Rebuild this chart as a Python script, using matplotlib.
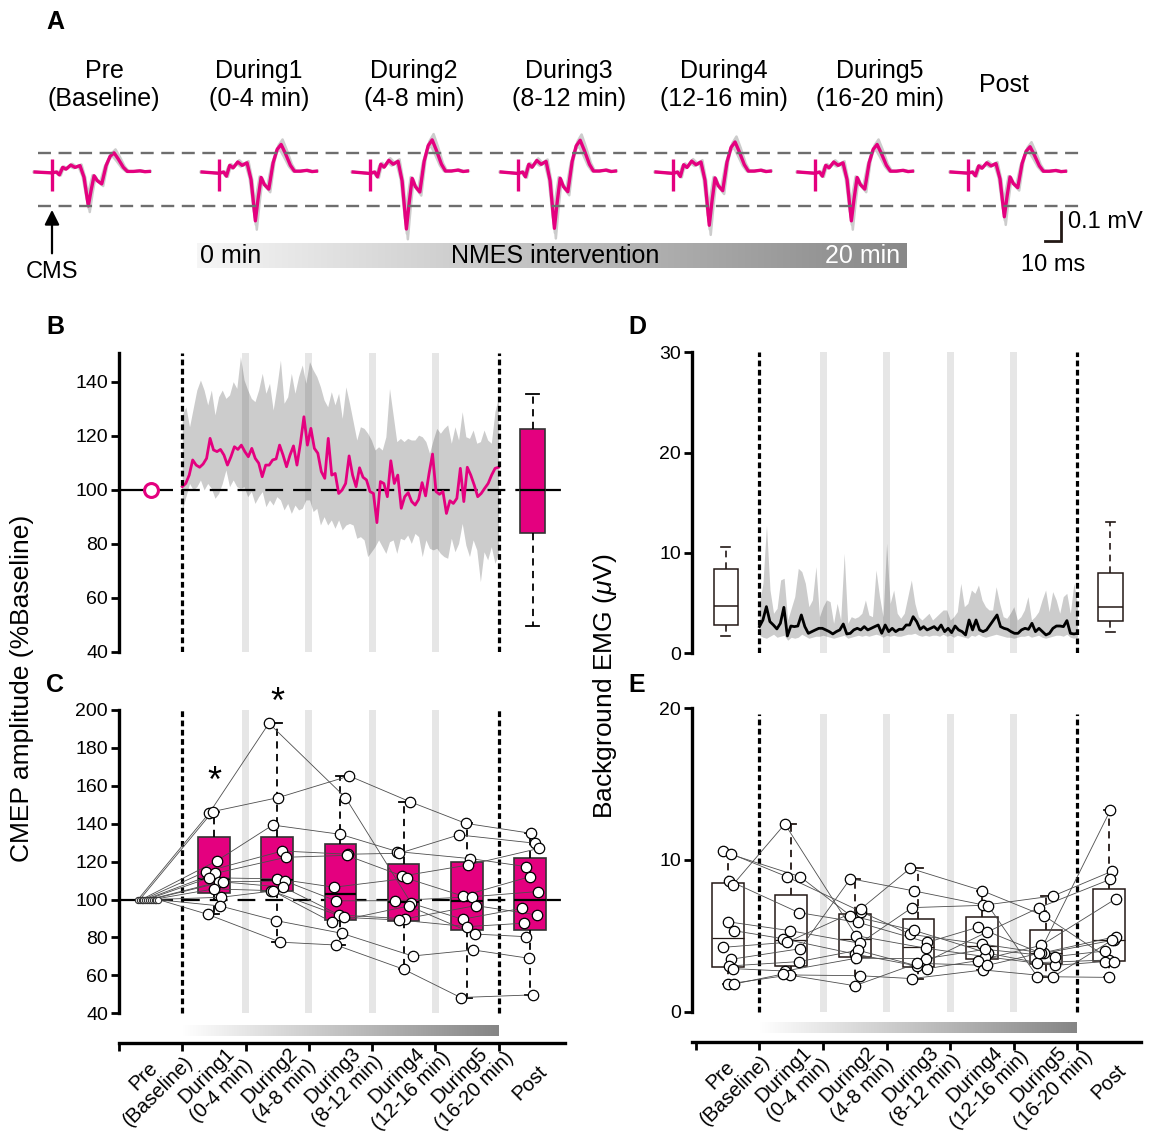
import numpy as np
import matplotlib
matplotlib.use("Agg")
import matplotlib.pyplot as plt
from matplotlib import transforms
from matplotlib.colors import LinearSegmentedColormap

plt.rcParams['font.family'] = ['Liberation Sans', 'DejaVu Sans']
plt.rcParams['mathtext.fontset'] = 'custom'
plt.rcParams['mathtext.rm'] = 'Liberation Sans'
plt.rcParams['mathtext.it'] = 'Liberation Sans:italic'

W, H = 1149, 1136
PINK = '#e4007f'
EDGE = '#231815'

# ---------------- data ----------------
condition_labels = ['Pre\n(Baseline)', 'During1\n(0-4 min)', 'During2\n(4-8 min)', 'During3\n(8-12 min)',
                    'During4\n(12-16 min)', 'During5\n(16-20 min)', 'Post']

# A: averaged CMEP waveform (Pre), time from stimulus (ms) and amplitude (mV)
trace_t = [-10.6, -0.2, 2.9, 4.6, 6.7, 8.8, 11.7, 14.4, 17.5, 20.0, 22.7, 24.4, 26.3, 28.3, 31.1,
           33.8, 36.3, 38.8, 41.4, 44.6, 47.1, 50.8, 55.0, 58.1, 60.8]
trace_v = [0.0, -0.003, 0.0, -0.01, 0.016, 0.01, 0.024, 0.016, 0.022, -0.018, -0.117, -0.064, -0.013,
           -0.03, -0.041, 0.022, 0.054, 0.066, 0.045, 0.016, 0.002, 0.002, 0.004, 0.001, 0.002]
trace_gain = [1.0, 1.44, 1.68, 1.66, 1.57, 1.44, 1.32]
trial_gain = [0.82, 0.93, 1.08, 1.18]
artifact = [0.045, -0.065]

# B: CMEP amplitude time course (%Baseline)
b_mean = [101.1, 102.3, 105.4, 111.0, 109.1, 108.3, 109.5, 111.6, 119.0, 114.7, 114.1, 114.9, 112.8,
          109.1, 112.2, 115.9, 114.9, 116.5, 114.1, 112.2, 115.3, 111.6, 109.8, 104.8, 109.1, 109.1,
          111.0, 111.4, 116.5, 112.8, 108.5, 112.8, 116.2, 109.1, 117.2, 127.0, 116.5, 122.7, 115.3,
          113.5, 106.7, 104.2, 119.0, 105.4, 106.0, 98.6, 99.9, 102.3, 112.5, 105.4, 101.1, 108.1,
          104.6, 103.6, 99.3, 98.6, 87.8, 103.0, 102.3, 97.4, 110.7, 102.3, 105.4, 93.1, 97.4, 98.9,
          95.6, 94.3, 96.4, 102.6, 97.7, 106.0, 113.2, 99.3, 98.3, 99.3, 91.2, 95.9, 94.9, 96.8,
          107.9, 95.6, 108.3, 105.4, 101.7, 97.4, 98.6, 100.5, 102.3, 105.4, 107.9, 108.3]
b_upper = [127.7, 130.7, 123.3, 130.1, 136.9, 140.6, 136.9, 131.4, 136.9, 127.7, 134.4, 136.9, 133.8,
           135.1, 140.0, 137.5, 149.3, 140.6, 136.9, 133.8, 132.6, 136.9, 143.1, 135.7, 139.4, 129.5,
           138.1, 148.0, 132.0, 134.4, 143.1, 135.7, 141.9, 146.2, 139.4, 147.4, 144.3, 141.9, 138.1,
           133.2, 130.7, 136.3, 131.4, 135.7, 126.4, 138.1, 132.0, 125.2, 118.4, 123.3, 122.7, 120.9,
           118.4, 114.7, 115.9, 114.7, 119.6, 137.5, 127.7, 117.8, 119.0, 117.8, 119.0, 118.4, 118.4,
           120.2, 119.6, 117.8, 113.5, 118.4, 122.7, 120.9, 122.7, 124.0, 117.2, 123.3, 118.4, 128.9,
           119.6, 119.0, 122.1, 117.2, 117.8, 122.1, 118.4, 117.2, 128.9, 134.4]
b_lower = [92.5, 97.4, 102.3, 99.9, 101.1, 103.6, 99.9, 102.3, 100.5, 96.8, 98.6, 102.3, 107.3, 101.1,
           103.6, 101.1, 100.5, 101.1, 97.4, 99.3, 94.9, 97.4, 99.3, 93.7, 96.2, 94.3, 97.4, 96.2,
           92.5, 94.9, 91.2, 94.3, 92.5, 93.1, 96.2, 96.2, 91.9, 93.1, 86.9, 90.0, 86.9, 88.8, 85.7,
           88.8, 85.1, 86.9, 87.5, 86.9, 82.0, 82.6, 81.4, 75.2, 77.0, 78.9, 81.4, 78.9, 76.4, 80.7,
           81.4, 76.4, 82.0, 81.4, 83.2, 80.1, 83.8, 82.6, 75.2, 81.4, 78.3, 77.7, 78.3, 76.4, 75.2,
           74.6, 82.0, 77.0, 80.1, 87.5, 79.5, 75.2, 81.4, 77.7, 65.9, 77.0, 74.0, 78.9, 72.7, 76.4]
b_post = dict(q1=84.0, med=100.0, q3=122.5, whislo=49.5, whishi=135.3)

# C: individual CMEP amplitude (%Baseline), 12 subjects, During1..During5, Post (Pre = 100)
c_values = [
    [145.8, 193.0, 153.8, 98.0, 89.6, 95.4],
    [146.4, 153.8, 165.2, 151.6, 140.2, 134.9],
    [120.5, 139.3, 134.4, 125.3, 121.6, 117.4],
    [114.7, 125.6, 123.9, 124.4, 134.1, 129.7],
    [113.8, 122.3, 123.3, 112.4, 118.2, 127.0],
    [111.5, 110.9, 106.5, 111.2, 101.9, 112.1],
    [109.3, 109.8, 99.3, 99.4, 101.5, 104.2],
    [109.3, 106.5, 91.9, 89.8, 96.8, 91.9],
    [105.6, 104.7, 90.6, 89.2, 85.7, 87.5],
    [101.2, 104.5, 88.0, 96.6, 81.8, 80.4],
    [96.6, 88.9, 82.2, 70.2, 73.4, 69.0],
    [92.2, 77.5, 76.0, 63.2, 48.3, 49.7],
]
c_q1 = [103.6, 104.5, 89.2, 88.9, 84.0, 84.0]
c_med = [110.9, 110.3, 102.8, 98.5, 99.4, 99.8]
c_q3 = [132.8, 132.8, 129.3, 118.6, 120.0, 122.1]
c_lo = [92.2, 77.5, 76.0, 63.2, 48.3, 49.7]
c_hi = [146.4, 193.0, 165.2, 151.6, 140.2, 134.9]
c_signif = [162.0, 203.5, None, None, None, None]

# D: background EMG time course (uV)
d_mean = [2.66, 3.32, 4.65, 3.16, 2.82, 2.43, 2.99, 4.58, 1.73, 2.72, 2.66, 2.72, 3.82, 2.66, 1.99,
          2.16, 2.33, 2.49, 2.49, 2.33, 2.16, 1.93, 2.16, 2.33, 2.92, 1.93, 1.99, 2.33, 2.49, 2.33,
          2.66, 2.33, 2.49, 2.66, 2.82, 1.99, 2.82, 2.16, 2.49, 2.16, 2.39, 2.39, 2.82, 2.82, 3.65,
          3.16, 2.39, 2.66, 2.33, 2.49, 2.66, 2.33, 2.82, 2.16, 2.49, 2.06, 2.72, 2.33, 2.16, 1.83,
          3.32, 2.33, 3.32, 2.33, 2.16, 2.33, 2.82, 3.32, 3.82, 2.66, 2.49, 2.39, 2.16, 1.99, 1.99,
          2.33, 2.49, 2.39, 2.99, 2.16, 2.49, 2.16, 1.83, 1.99, 2.49, 2.72, 2.72, 2.66, 3.26, 1.99,
          1.93, 1.99]
d_upper = [4.98, 6.98, 12.79, 6.31, 3.99, 4.49, 7.31, 7.48, 3.32, 4.49, 5.65, 8.47, 8.14, 6.98, 4.65,
           5.32, 8.64, 3.65, 4.65, 5.32, 5.15, 2.99, 4.98, 3.32, 9.97, 2.99, 3.65, 3.49, 3.65, 3.99,
           5.32, 3.82, 3.65, 8.31, 5.65, 3.65, 10.96, 4.98, 6.31, 3.99, 3.49, 3.99, 5.65, 7.31, 4.98,
           3.65, 3.32, 3.65, 3.99, 3.32, 3.65, 3.99, 4.32, 4.32, 3.32, 3.65, 4.15, 6.98, 4.65, 4.98,
           6.31, 5.98, 6.81, 5.32, 4.65, 4.32, 4.32, 6.64, 4.98, 3.65, 3.49, 3.99, 4.65, 3.32, 3.65,
           4.32, 5.65, 3.32, 3.65, 4.15, 5.32, 6.31, 4.15, 6.15, 5.32, 3.99, 5.65, 5.98, 3.99, 6.98,
           4.98]
d_lower = [1.8, 1.6, 1.5, 1.7, 1.9, 1.6, 1.7, 1.8, 1.3, 1.6, 1.5, 1.6, 1.9, 1.7, 1.5, 1.6, 1.7, 1.7,
           1.8, 1.7, 1.6, 1.5, 1.6, 1.7, 1.8, 1.5, 1.6, 1.7, 1.8, 1.7, 1.8, 1.7, 1.8, 1.9, 1.8, 1.6,
           1.8, 1.7, 1.8, 1.7, 1.7, 1.8, 1.9, 1.9, 2.0, 1.8, 1.7, 1.8, 1.7, 1.8, 1.8, 1.7, 1.9, 1.7,
           1.8, 1.6, 1.8, 1.7, 1.6, 1.5, 1.8, 1.7, 1.9, 1.7, 1.6, 1.7, 1.8, 1.9, 1.8, 1.7, 1.6, 1.6,
           1.5, 1.6, 1.7, 1.7, 1.8, 1.6, 1.7, 1.8, 1.6, 1.5, 1.6, 1.7, 1.8, 1.8, 1.7, 1.9, 1.6, 1.5,
           1.6]
d_pre = dict(q1=2.82, med=4.72, q3=8.37, whislo=1.76, whishi=10.56)
d_post = dict(q1=3.26, med=4.65, q3=7.97, whislo=2.16, whishi=13.12)

# E: individual background EMG (uV), 12 subjects, Pre, During1..During5, Post
e_values = [
    [10.62, 8.90, 6.59, 5.10, 4.46, 3.85, 4.73],
    [10.37, 8.90, 6.33, 5.36, 3.85, 3.23, 3.41],
    [8.64, 6.53, 5.89, 4.57, 5.56, 3.85, 4.95],
    [8.35, 12.37, 5.01, 4.18, 3.63, 3.05, 3.30],
    [5.93, 5.34, 4.51, 6.86, 7.01, 7.63, 9.27],
    [5.34, 4.81, 3.80, 3.01, 5.25, 6.86, 8.73],
    [4.24, 4.57, 6.79, 9.45, 7.98, 6.31, 3.27],
    [3.45, 4.15, 8.77, 7.96, 6.97, 2.31, 2.26],
    [3.01, 3.30, 4.05, 2.84, 3.36, 4.37, 7.43],
    [2.84, 2.68, 3.52, 3.50, 4.11, 3.63, 4.00],
    [1.82, 2.42, 2.37, 2.18, 2.75, 2.31, 4.73],
    [1.82, 2.48, 1.71, 3.19, 3.05, 3.85, 13.30],
]
e_q1 = [2.92, 3.01, 3.63, 2.92, 3.45, 3.14, 3.36]
e_med = [4.84, 4.73, 4.77, 4.29, 4.33, 3.85, 4.73]
e_q3 = [8.46, 7.69, 6.44, 6.09, 6.22, 5.38, 8.07]
e_lo = [1.82, 2.42, 1.71, 2.18, 2.75, 2.31, 2.26]
e_hi = [10.62, 12.37, 8.77, 9.45, 7.98, 7.63, 13.30]

# ---------------- layout helpers ----------------
fig = plt.figure(figsize=(W / 100, H / 100), dpi=100)
JITTER = [-0.07, -0.02, 0.05, -0.13, 0.02, -0.07, 0.08, 0.14, 0.0, 0.12, 0.1, -0.1]
nmes_cmap = LinearSegmentedColormap.from_list('nmes', ['#ffffff', '#858585'])
grad = np.linspace(0, 1, 256)[None, :]


def add_ax(left, top, right, bottom):
    return fig.add_axes([left / W, 1 - bottom / H, (right - left) / W, (bottom - top) / H])


def left_axis(ax, ticks, lo, hi):
    for s in ['top', 'right', 'bottom']:
        ax.spines[s].set_visible(False)
    ax.spines['left'].set_linewidth(2.4)
    ax.spines['left'].set_bounds(lo, hi)
    ax.set_yticks(ticks)
    ax.tick_params(axis='y', direction='out', length=6, width=2, labelsize=14, pad=2)
    ax.set_xticks([])


def intervention_marks(ax, lo, hi):
    for x in [2, 3, 4, 5]:
        ax.fill_betweenx([lo, hi], x - 0.055, x + 0.055, color='#e6e6e6', lw=0, zorder=0)
    ax.vlines([1, 6], lo, hi, colors='k', lw=2.3, linestyles=(0, (1.8, 1.1)), zorder=4)


def condition_axis(ax, y0, y1):
    ax.spines['bottom'].set_visible(True)
    ax.spines['bottom'].set_linewidth(2.4)
    ax.set_xticks(range(7))
    ax.set_xticklabels([])
    ax.tick_params(axis='x', direction='out', length=6, width=2)
    ax.imshow(grad, extent=(1, 6, y0, y1), aspect='auto', cmap=nmes_cmap, zorder=1)
    trans = transforms.offset_copy(ax.get_xaxis_transform(), fig=fig, y=-29, units='points')
    for i, lab in enumerate(condition_labels):
        ax.text(i + 0.5, 0, lab, transform=trans, rotation=45, ha='center', va='center',
                rotation_mode='anchor', fontsize=14.5, linespacing=1.15)


def stats_list(q1, med, q3, lo, hi):
    return [dict(q1=a, med=b, q3=c, whislo=d, whishi=e, fliers=[]) for a, b, c, d, e in zip(q1, med, q3, lo, hi)]


# ---------------- A ----------------
PX_MS, PX_MV = 1.6, 290.0
trace_onset = [32.5, 136.9, 231.3, 323.8, 420.6, 509.4, 605.0]
ax_a = add_ax(0, 110, W, 290)
ax_a.set_xlim(0, W / PX_MS)
ax_a.set_ylim(-(290 - 172) / PX_MV, (172 - 110) / PX_MV)
ax_a.axis('off')
tv = np.array(trace_v)
for onset, gain in zip(trace_onset, trace_gain):
    t = onset + np.array(trace_t)
    for k, g in enumerate(trial_gain):
        ax_a.plot(t + (k - 1.5) * 0.6, tv * gain * g, color='#cccccc', lw=1.8, zorder=1)
    ax_a.plot(t, tv * gain, color=PINK, lw=2.4, zorder=2)
    ax_a.vlines(onset, artifact[1], artifact[0], color=PINK, lw=2.4, zorder=2)
ref_hi, ref_lo = tv.max() * trace_gain[0], tv.min() * trace_gain[0]
ax_a.hlines([ref_hi, ref_lo], 23.75, 678, color='#6e6e6e', lw=1.7, linestyles=(0, (5.5, 3.2)), zorder=3)
ax_a.annotate('', xy=(trace_onset[0], ref_lo - 0.004), xytext=(trace_onset[0], -0.29),
              arrowprops=dict(arrowstyle='-|>', color='k', lw=1.6, mutation_scale=22))
ax_a.text(trace_onset[0], -0.345, 'CMS', ha='center', va='center', fontsize=17)
ax_a.imshow(grad, extent=(123.1, 566.3, -0.331, -0.245), aspect='auto',
            cmap=LinearSegmentedColormap.from_list('a', ['#f6f6f6', '#888888']), zorder=0)
ax_a.text(125, -0.288, '0 min', ha='left', va='center', fontsize=18)
ax_a.text(346.9, -0.288, 'NMES intervention', ha='center', va='center', fontsize=18)
ax_a.text(562.5, -0.288, '20 min', ha='right', va='center', fontsize=18, color='white')
sb_x, sb_y = 663.1, -0.238
ax_a.plot([sb_x - 10, sb_x, sb_x], [sb_y, sb_y, sb_y + 0.1], color=EDGE, lw=2, solid_joinstyle='miter')
ax_a.text(sb_x + 4.5, sb_y + 0.066, '0.1 mV', ha='left', va='center', fontsize=17)
ax_a.text(sb_x - 5, -0.321, '10 ms', ha='center', va='center', fontsize=17)
a_title_x = [104, 259, 414, 569, 724, 880, 1004]
for x, lab in zip(a_title_x, condition_labels):
    fig.text(x / W, 1 - 85 / H, lab, ha='center', va='center', fontsize=18, linespacing=1.2)

# ---------------- B ----------------
ax_b = add_ax(119, 353.3, 565, 651.7)
ax_b.set_xlim(0, 7.05)
ax_b.set_ylim(40, 150.5)
left_axis(ax_b, range(40, 141, 20), 40, 150.5)
intervention_marks(ax_b, 40, 150.5)
xb = np.linspace(1, 6, len(b_upper))
ax_b.fill_between(xb, b_lower, b_upper, color='k', alpha=0.2, lw=0, zorder=1)
ax_b.plot(np.linspace(1, 6, len(b_mean)), b_mean, color=PINK, lw=2, zorder=3)
ax_b.hlines(100, 0, 0.85, color='k', lw=1.6, zorder=2)
ax_b.hlines(100, 1, 7.0, color='k', lw=1.6, linestyles=(0, (8, 4.5)), zorder=2)
ax_b.plot(0.5, 100, 'o', ms=10, mfc='white', mec=PINK, mew=2.2, zorder=5)
ax_b.bxp([dict(b_post, fliers=[])], positions=[6.54], widths=0.4, patch_artist=True, showfliers=False,
         capwidths=0.2, boxprops=dict(facecolor=PINK, edgecolor='#333333', lw=1.2),
         whiskerprops=dict(color='k', lw=1.3, ls=(0, (4, 3))), capprops=dict(color='k', lw=1.3),
         medianprops=dict(color='k', lw=1.6), manage_ticks=False)

# ---------------- C ----------------
ax_c = add_ax(119, 710, 565, 1043)
ax_c.set_xlim(0, 7.05)
ax_c.set_ylim(24.3, 200)
left_axis(ax_c, range(40, 201, 20), 40, 200)
intervention_marks(ax_c, 40, 200)
condition_axis(ax_c, 27.8, 33.6)
ax_c.hlines(100, 0, 0.85, color='k', lw=1.6, zorder=2)
ax_c.hlines(100, 1, 7.0, color='k', lw=1.6, linestyles=(0, (8, 4.5)), zorder=2)
ax_c.bxp(stats_list(c_q1, c_med, c_q3, c_lo, c_hi), positions=np.arange(1, 7) + 0.5, widths=0.5,
         patch_artist=True, showfliers=False, capwidths=0.15,
         boxprops=dict(facecolor=PINK, edgecolor='#333333', lw=1.2),
         whiskerprops=dict(color='k', lw=1.3, ls=(0, (4, 3))), capprops=dict(color='k', lw=1.3),
         medianprops=dict(color='k', lw=1.6), manage_ticks=False)
pre_x = np.linspace(0.3, 0.62, len(c_values))
for s, row in enumerate(c_values):
    xs = [pre_x[s]] + [c + 1.5 + JITTER[(s + 3 * c) % 12] for c in range(len(row))]
    ys = [100] + row
    ax_c.plot(xs, ys, color='#4d4d4d', lw=0.6, zorder=6)
    ax_c.plot(xs[1:], ys[1:], 'o', ms=7.5, mfc='white', mec='k', mew=0.9, zorder=7)
ax_c.plot(pre_x, [100] * len(pre_x), 'o', ms=4.5, mfc='white', mec='#333333', mew=0.8, zorder=7)
for i, ys in enumerate(c_signif):
    if ys is not None:
        ax_c.text(i + 1.5, ys, '*', ha='center', va='center', fontsize=26, clip_on=False)

# ---------------- D ----------------
ax_d = add_ax(692, 352.3, 1141, 653.3)
ax_d.set_xlim(-0.06, 7.0)
ax_d.set_ylim(0, 30)
left_axis(ax_d, [0, 10, 20, 30], 0, 30)
intervention_marks(ax_d, 0, 30)
ax_d.fill_between(np.linspace(1, 6, len(d_upper)), d_lower, d_upper, color='k', alpha=0.2, lw=0, zorder=1)
ax_d.plot(np.linspace(1, 6, len(d_mean)), d_mean, color='k', lw=2, zorder=3)
ax_d.bxp([dict(d_pre, fliers=[]), dict(d_post, fliers=[])], positions=[0.47, 6.52], widths=0.38,
         patch_artist=True, showfliers=False, capwidths=0.15,
         boxprops=dict(facecolor='white', edgecolor=EDGE, lw=1.1),
         whiskerprops=dict(color=EDGE, lw=1.2, ls=(0, (4, 3))), capprops=dict(color=EDGE, lw=1.2),
         medianprops=dict(color=EDGE, lw=1.1), manage_ticks=False)

# ---------------- E ----------------
ax_e = add_ax(692, 708.3, 1141, 1042)
ax_e.set_xlim(-0.06, 7.0)
ax_e.set_ylim(-2.0, 20)
left_axis(ax_e, [0, 10, 20], 0, 20)
intervention_marks(ax_e, 0, 19.6)
condition_axis(ax_e, -1.41, -0.75)
ax_e.bxp(stats_list(e_q1, e_med, e_q3, e_lo, e_hi), positions=np.arange(7) + 0.5, widths=0.5,
         patch_artist=True, showfliers=False, capwidths=0.15,
         boxprops=dict(facecolor='white', edgecolor=EDGE, lw=1.1),
         whiskerprops=dict(color=EDGE, lw=1.3, ls=(0, (4, 3))), capprops=dict(color=EDGE, lw=1.3),
         medianprops=dict(color=EDGE, lw=0.9), manage_ticks=False)
for s, row in enumerate(e_values):
    xs = [c + 0.5 + JITTER[(2 * s + 5 * c) % 12] for c in range(len(row))]
    ax_e.plot(xs, row, color='#4d4d4d', lw=0.6, zorder=6)
    ax_e.plot(xs, row, 'o', ms=7.5, mfc='white', mec='k', mew=0.9, zorder=7)

# ---------------- labels ----------------
fig.text(22 / W, 1 - 688 / H, 'CMEP amplitude (%Baseline)', rotation=90, ha='center', va='center', fontsize=19)
fig.text(605 / W, 1 - 686 / H, r'Background EMG ($\mu$V)', rotation=90, ha='center', va='center', fontsize=19)
for letter, x, y in [('A', 55, 22), ('B', 55, 327), ('C', 55, 685), ('D', 637, 327), ('E', 637, 685)]:
    fig.text(x / W, 1 - y / H, letter, ha='center', va='center', fontsize=18, fontweight='bold')

fig.savefig('out.png', dpi=100)
